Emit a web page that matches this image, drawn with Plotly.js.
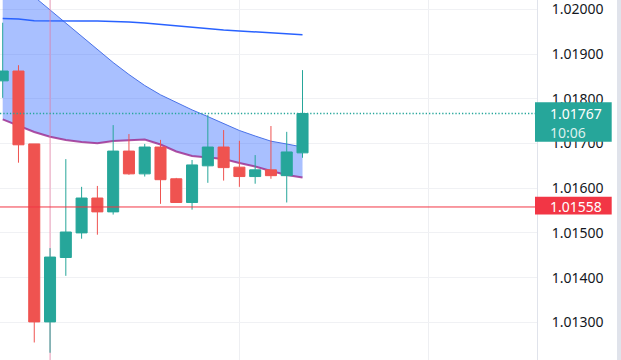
<!DOCTYPE html>
<html>
<head>
<meta charset="utf-8">
<script src="https://cdn.plot.ly/plotly-3.0.1.min.js"></script>
<style>html,body{margin:0;padding:0;background:#fff;}#chart{width:621px;height:360px;}</style>
</head>
<body>
<div id="chart"></div>
<script>
// ---- data ----
const barIndex = [0,1,2,3,4,5,6,7,8,9,10,11,12,13,14,15,16,17,18,19];
const openPrices  = [1.01840,1.01862,1.01699,1.01301,1.01445,1.01500,1.01578,1.01547,1.01683,1.01632,1.01692,1.01621,1.01568,1.01650,1.01692,1.01647,1.01626,1.01641,1.01628,1.01679];
const highPrices  = [1.01970,1.01875,1.01699,1.01466,1.01665,1.01603,1.01605,1.01741,1.01721,1.01699,1.01708,1.01623,1.01663,1.01764,1.01730,1.01706,1.01674,1.01739,1.01726,1.01864];
const lowPrices   = [1.01802,1.01657,1.01255,1.01232,1.01404,1.01487,1.01496,1.01541,1.01630,1.01626,1.01565,1.01568,1.01552,1.01612,1.01617,1.01603,1.01610,1.01621,1.01568,1.01668];
const closePrices = [1.01862,1.01697,1.01301,1.01446,1.01502,1.01578,1.01547,1.01683,1.01632,1.01692,1.01619,1.01568,1.01652,1.01692,1.01646,1.01626,1.01641,1.01628,1.01681,1.01767];

const bandUpper = [1.020923,1.020579,1.020280,1.019984,1.019698,1.019392,1.019090,1.018810,1.018542,1.018296,1.018088,1.017912,1.017751,1.017601,1.017447,1.017290,1.017167,1.017051,1.016988,1.016921];
const bandLower = [1.017538,1.017391,1.017256,1.017149,1.017078,1.017033,1.017004,1.017055,1.017078,1.017089,1.016977,1.016820,1.016720,1.016686,1.016653,1.016563,1.016485,1.016384,1.016295,1.016239];
const longMA    = [1.019794,1.019783,1.019745,1.019738,1.019738,1.019738,1.019738,1.019732,1.019716,1.019694,1.019660,1.019627,1.019593,1.019560,1.019537,1.019515,1.019492,1.019470,1.019448,1.019432];

const yTickVals = [1.013,1.014,1.015,1.016,1.017,1.018,1.019,1.020];
const yTickText = ['1.01300','1.01400','1.01500','1.01600','1.01700','1.01800','1.01900','1.02000'];
const timeGridIdx = [3,15,27];
const sessionBreakIdx = 3;

const lastPrice = 1.01767;
const lastPriceText = '1.01767';
const countdownText = '10:06';
const refPrice = 1.01558;
const refPriceText = '1.01558';

// ---- colours ----
const UP = '#26a69a', DOWN = '#ef5350', REF = '#f23645';
const FONT = 'Noto Sans, Roboto, sans-serif';
const Y_RANGE = [1.012158, 1.020208];

const traces = [
  {x: barIndex, y: bandUpper, type: 'scatter', mode: 'lines',
   line: {color: '#4a72e8', width: 1}, hoverinfo: 'skip'},
  {x: barIndex, y: bandLower, type: 'scatter', mode: 'lines', fill: 'tonexty',
   fillcolor: 'rgba(41,98,255,0.40)', line: {color: 'rgba(156,39,140,0.8)', width: 2}, hoverinfo: 'skip'},
  {x: barIndex, y: longMA, type: 'scatter', mode: 'lines',
   line: {color: '#2962ff', width: 1.5}, hoverinfo: 'skip'},
  // session break marker (vertical line through the whole price range)
  {x: [sessionBreakIdx, sessionBreakIdx], y: Y_RANGE, type: 'scatter', mode: 'lines',
   line: {color: 'rgba(240,130,165,0.75)', width: 1}, hoverinfo: 'skip'},
  {x: barIndex, open: openPrices, high: highPrices, low: lowPrices, close: closePrices,
   type: 'candlestick', whiskerwidth: 0, yaxis: 'y2',
   increasing: {line: {color: UP, width: 1}, fillcolor: UP},
   decreasing: {line: {color: DOWN, width: 1}, fillcolor: DOWN},
   hoverinfo: 'skip'}
];

const layout = {
  width: 621, height: 360,
  margin: {l: 0, r: 84, t: 0, b: 0, pad: 0},
  paper_bgcolor: '#ffffff', plot_bgcolor: '#ffffff',
  showlegend: false,
  boxgap: 0.3, boxgroupgap: 0,
  font: {family: FONT, size: 14, color: '#131722'},
  xaxis: {
    range: [-0.171, 33.86], tickvals: timeGridIdx, showticklabels: false,
    showgrid: true, gridcolor: '#eeeff2', gridwidth: 1, zeroline: false,
    showline: false, ticks: '', rangeslider: {visible: false}, fixedrange: true
  },
  yaxis: {
    side: 'right', range: Y_RANGE,
    tickvals: yTickVals, ticktext: yTickText, ticks: '',
    ticklabelstandoff: 11, ticklabeloverflow: 'allow',
    tickfont: {family: FONT, size: 14, color: '#131722'},
    showgrid: true, gridcolor: '#f0f1f4', gridwidth: 1, zeroline: false,
    showline: true, linecolor: '#e0e3eb', linewidth: 1, fixedrange: true
  },
  yaxis2: {
    overlaying: 'y', side: 'right', range: Y_RANGE, visible: false,
    showgrid: false, zeroline: false, fixedrange: true
  },
  shapes: [
    {type: 'line', xref: 'paper', yref: 'y', x0: 0, x1: 1, y0: lastPrice, y1: lastPrice,
     line: {color: UP, width: 1.3, dash: '1.3px,2px'}, layer: 'above'},
    {type: 'line', xref: 'paper', yref: 'y', x0: 0, x1: 1, y0: refPrice, y1: refPrice,
     line: {color: REF, width: 1}, layer: 'above'},
    // last price label box
    {type: 'rect', xref: 'paper', yref: 'y', xsizemode: 'pixel', ysizemode: 'pixel',
     xanchor: 1, yanchor: lastPrice, x0: -2, x1: 74.7, y0: -28.2, y1: 11.2,
     fillcolor: UP, line: {width: 0}, layer: 'above'},
    // reference price label box
    {type: 'rect', xref: 'paper', yref: 'y', xsizemode: 'pixel', ysizemode: 'pixel',
     xanchor: 1, yanchor: refPrice, x0: -2, x1: 74.7, y0: -7.6, y1: 10.2,
     fillcolor: REF, line: {width: 0}, layer: 'above'},
    // right edge strip
    {type: 'rect', xref: 'paper', yref: 'paper', xsizemode: 'pixel', xanchor: 1,
     x0: 80, x1: 86, y0: 0, y1: 1, fillcolor: '#e0e3eb', line: {width: 0}, layer: 'above'}
  ],
  annotations: [
    {xref: 'paper', yref: 'y', x: 1, y: lastPrice, xanchor: 'left', yanchor: 'middle',
     xshift: 11, yshift: 0, text: lastPriceText, showarrow: false,
     font: {family: FONT, size: 14, color: '#ffffff'}},
    {xref: 'paper', yref: 'y', x: 1, y: lastPrice, xanchor: 'left', yanchor: 'middle',
     xshift: 11, yshift: -19, text: countdownText, showarrow: false,
     font: {family: FONT, size: 14, color: 'rgba(255,255,255,0.85)'}},
    {xref: 'paper', yref: 'y', x: 1, y: refPrice, xanchor: 'left', yanchor: 'middle',
     xshift: 11, yshift: 0, text: refPriceText, showarrow: false,
     font: {family: FONT, size: 14, color: '#ffffff'}}
  ]
};

Plotly.newPlot('chart', traces, layout, {staticPlot: true, displayModeBar: false});
</script>
</body>
</html>
